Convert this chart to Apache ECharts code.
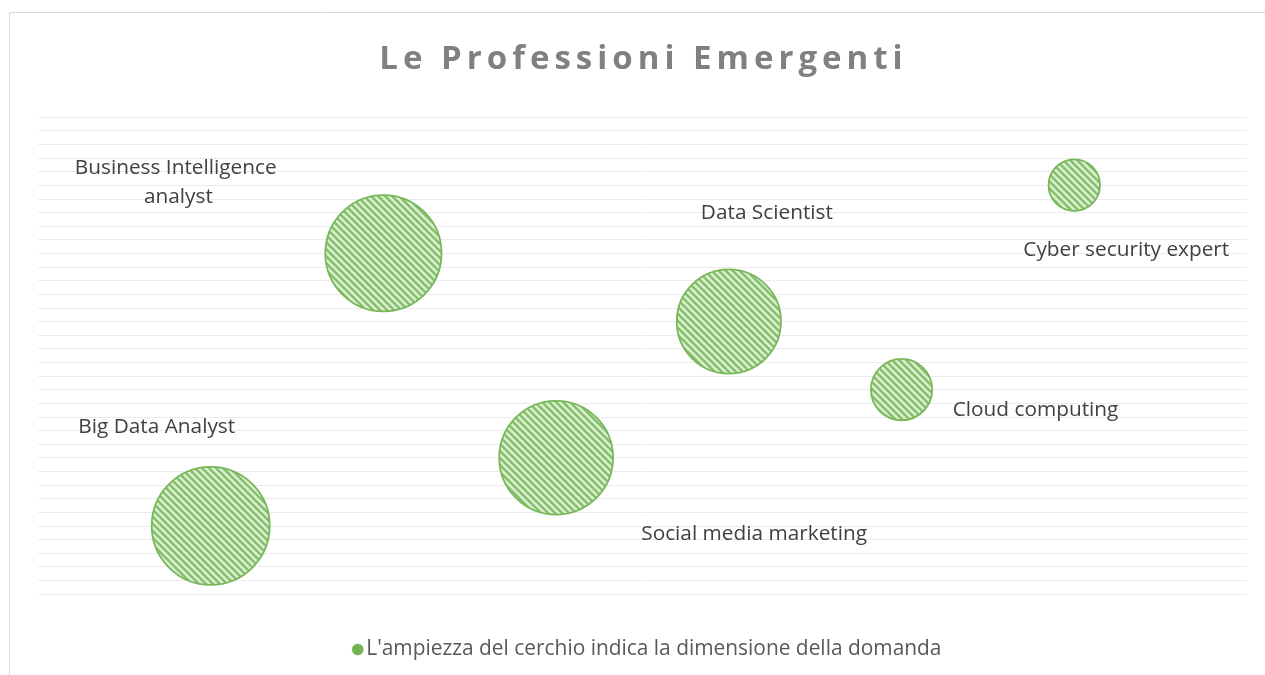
<!DOCTYPE html>
<html>
<head>
<meta charset="utf-8">
<script src="https://cdn.jsdelivr.net/npm/echarts@6/dist/echarts.min.js"></script>
<style>html,body{margin:0;padding:0;background:#fff;}#c{width:1265px;height:675px;}</style>
</head>
<body>
<div id="c"></div>
<script>
// ---- data ----
const professions = ['Big Data Analyst', 'Business Intelligence analyst', 'Social media marketing', 'Data Scientist', 'Cloud computing', 'Cyber security expert'];
const xValues = [1, 2, 3, 4, 5, 6];
const yValues = [1, 5, 2, 4, 3, 6];
const demand = [100, 97, 93, 78, 27, 19];
const seriesName = "L'ampiezza del cerchio indica la dimensione della domanda";
const chartTitle = 'Le Professioni Emergenti';

// ---- styling (label placement relative to bubble centre, label wrapping) ----
const labelOffsets = [[-54, -99], [-205, -71], [198, 76], [38, -108], [134, 20], [52, 65]];
const labelWidths = [0, 215, 0, 0, 0, 0];
const maxRadius = 59;

// diagonal stripe pattern
const T = 7;
const pat = document.createElement('canvas');
pat.width = T; pat.height = T;
const g = pat.getContext('2d');
g.fillStyle = '#dcedd4';
g.fillRect(0, 0, T, T);
g.strokeStyle = '#84c169';
g.lineWidth = 2.4;
g.beginPath();
g.moveTo(-1, -1); g.lineTo(T + 1, T + 1);
g.moveTo(-T - 1, -1); g.lineTo(1, T + 1);
g.moveTo(T - 1, -1); g.lineTo(2 * T + 1, T + 1);
g.stroke();

const chart = echarts.init(document.getElementById('c'));
const data = professions.map((n, i) => ({ name: n, value: [xValues[i], yValues[i], demand[i]] }));

// letter-spaced title via rich text (each glyph padded)
const spacedTitle = chartTitle.split('').map(ch => '{s|' + ch + '}').join('');

chart.setOption({
  animation: false,
  title: {
    text: spacedTitle,
    left: 636, top: 38, textAlign: 'center',
    textStyle: {
      rich: { s: { fontFamily: 'Open Sans', fontWeight: 'bold', fontSize: 33, color: '#808080', padding: [0, 2.5, 0, 2.5] } }
    }
  },
  graphic: [{
    type: 'rect', z: -10, silent: true,
    shape: { x: 9.5, y: 12.5, width: 1300, height: 700 },
    style: { fill: 'none', stroke: '#d9d9d9', lineWidth: 1 }
  }],
  legend: {
    left: 347, top: 634,
    itemWidth: 11, itemHeight: 11, itemGap: 10,
    icon: 'circle',
    data: [{ name: seriesName, itemStyle: { color: '#72b352', borderColor: '#6aa84f', borderWidth: 0.5 } }],
    textStyle: { fontFamily: 'Open Sans', fontSize: 20.9, color: '#595959', padding: [0, 0, 0, -2] }
  },
  grid: { left: 38, right: 18, top: 117, bottom: 81 },
  xAxis: {
    type: 'value', min: 0, max: 7,
    axisLine: { show: false }, axisTick: { show: false }, axisLabel: { show: false },
    splitLine: { show: false }
  },
  yAxis: {
    type: 'value', min: 0, max: 7, interval: 0.2,
    axisLine: { show: false }, axisTick: { show: false }, axisLabel: { show: false },
    splitLine: { show: true, lineStyle: { color: '#ebebeb', width: 1 } }
  },
  series: [{
    type: 'custom',
    name: seriesName,
    data: data,
    encode: { x: 0, y: 1 },
    renderItem: function (params, api) {
      const i = params.dataIndex;
      const c = api.coord([api.value(0), api.value(1)]);
      const r = maxRadius * Math.sqrt(api.value(2) / 100);
      const off = labelOffsets[i];
      const txtStyle = {
        text: professions[i],
        x: c[0] + off[0], y: c[1] + off[1],
        fontFamily: 'Open Sans', fontSize: 20.8, fill: '#404040',
        align: 'center', verticalAlign: 'middle', lineHeight: 29
      };
      if (labelWidths[i]) { txtStyle.width = labelWidths[i]; txtStyle.overflow = 'break'; }
      return {
        type: 'group',
        children: [
          {
            type: 'circle',
            shape: { cx: c[0], cy: c[1], r: r },
            style: { fill: { image: pat, repeat: 'repeat' }, stroke: '#78b85a', lineWidth: 1.8 }
          },
          { type: 'text', z2: 10, style: txtStyle }
        ]
      };
    }
  }]
});
</script>
</body>
</html>
